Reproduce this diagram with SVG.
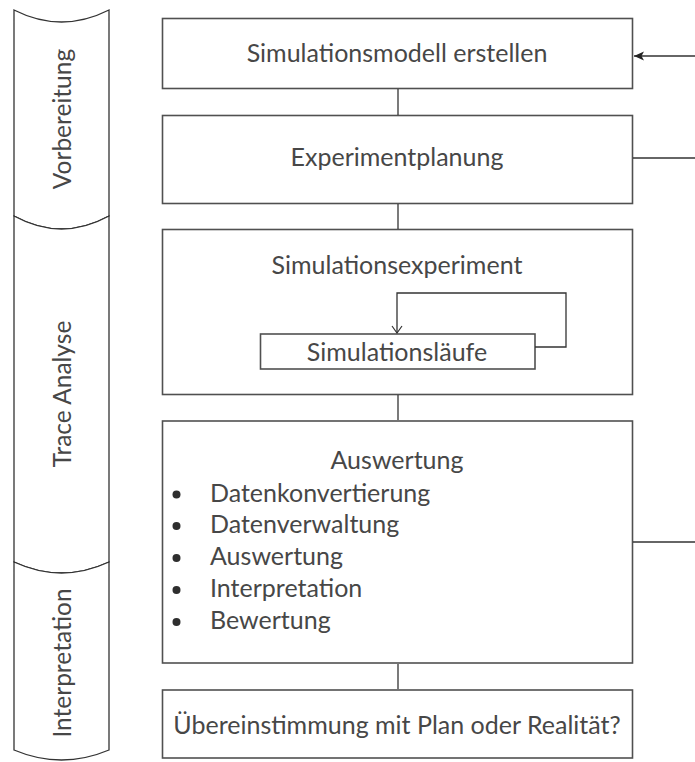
<svg xmlns="http://www.w3.org/2000/svg" width="695" height="762" viewBox="0 0 695 762">
  <style>
    .box { fill: #ffffff; stroke: #505050; stroke-width: 1.6; }
    .band { fill: #ffffff; stroke: #333333; stroke-width: 1.3; }
    .t { font-family: Lato, "Open Sans", "Liberation Sans", sans-serif; font-size: 25px; fill: #474747; }
    .c { text-anchor: middle; }
    .vt { font-family: Lato, "Open Sans", "Liberation Sans", sans-serif; font-size: 24.5px; fill: #474747; text-anchor: middle; }
    .ln { fill: none; stroke: #333333; stroke-width: 1.3; }
    .dot { fill: #2e2e2e; }
  </style>
  <defs>
    <marker id="arrFill" markerWidth="12" markerHeight="12" refX="10" refY="6" orient="auto" markerUnits="userSpaceOnUse">
      <path d="M0,1.5 L10,6 L0,10.5 L2.5,6 Z" fill="#222222"/>
    </marker>
    <marker id="arrOpen" markerWidth="12" markerHeight="12" refX="6" refY="10" orient="0" markerUnits="userSpaceOnUse">
      <path d="M1,3 L6,10 L11,3" fill="none" stroke="#333333" stroke-width="1.2"/>
    </marker>
  </defs>

  <!-- phase bands on the left -->
  <g id="phase-vorbereitung">
    <path class="band" d="M14,10 Q61.5,34 109,10 L109,216 Q61.5,242 14,216 Z"/>
    <text class="vt" transform="translate(71,119) rotate(-90)">Vorbereitung</text>
  </g>
  <g id="phase-trace">
    <path class="band" d="M14,216 Q61.5,242 109,216 L109,562 Q61.5,584 14,562 Z"/>
    <text class="vt" transform="translate(71,394) rotate(-90)">Trace Analyse</text>
  </g>
  <g id="phase-interpretation">
    <path class="band" d="M14,562 Q61.5,584 109,562 L109,750 Q61.5,770 14,750 Z"/>
    <text class="vt" transform="translate(71,663) rotate(-90)">Interpretation</text>
  </g>

  <g id="node-modell">
    <rect class="box" x="162.5" y="18.5" width="470" height="70"/>
    <text class="t c" x="397" y="62">Simulationsmodell erstellen</text>
  </g>
  <g id="node-planung">
    <rect class="box" x="162.5" y="115.5" width="470" height="88"/>
    <text class="t c" x="397" y="166">Experimentplanung</text>
  </g>
  <g id="node-experiment">
    <rect class="box" x="162.5" y="229.5" width="470" height="165"/>
    <text class="t c" x="397" y="274">Simulationsexperiment</text>
  </g>
  <g id="node-laeufe">
    <rect class="box" x="260.5" y="334" width="274.5" height="35"/>
    <text class="t c" x="397" y="361">Simulationsläufe</text>
  </g>
  <g id="node-auswertung">
    <rect class="box" x="162.5" y="421" width="470" height="242"/>
    <text class="t c" x="397" y="469">Auswertung</text>
    <circle class="dot" cx="176.5" cy="494.5" r="4"/>
    <circle class="dot" cx="176.5" cy="526" r="4"/>
    <circle class="dot" cx="176.5" cy="558" r="4"/>
    <circle class="dot" cx="176.5" cy="590" r="4"/>
    <circle class="dot" cx="176.5" cy="622" r="4"/>
    <text class="t" x="210" y="502">Datenkonvertierung</text>
    <text class="t" x="210" y="533">Datenverwaltung</text>
    <text class="t" x="210" y="565">Auswertung</text>
    <text class="t" x="210" y="597">Interpretation</text>
    <text class="t" x="210" y="629">Bewertung</text>
  </g>
  <g id="node-uebereinstimmung">
    <rect class="box" x="162.5" y="690" width="470" height="68"/>
    <text class="t c" x="397" y="734">Übereinstimmung mit Plan oder Realität?</text>
  </g>

  <!-- connectors -->
  <g id="connectors">
    <line class="ln" x1="398" y1="89" x2="398" y2="115"/>
    <line class="ln" x1="398" y1="204" x2="398" y2="229"/>
    <line class="ln" x1="398" y1="395" x2="398" y2="420"/>
    <line class="ln" x1="398" y1="664" x2="398" y2="689"/>
    <line class="ln" x1="695" y1="56" x2="634" y2="56" marker-end="url(#arrFill)"/>
    <line class="ln" x1="633" y1="158" x2="695" y2="158"/>
    <line class="ln" x1="633" y1="542" x2="695" y2="542"/>
    <polyline class="ln" points="535,347 566,347 566,293 397,293 397,333" marker-end="url(#arrOpen)"/>
  </g>
</svg>
